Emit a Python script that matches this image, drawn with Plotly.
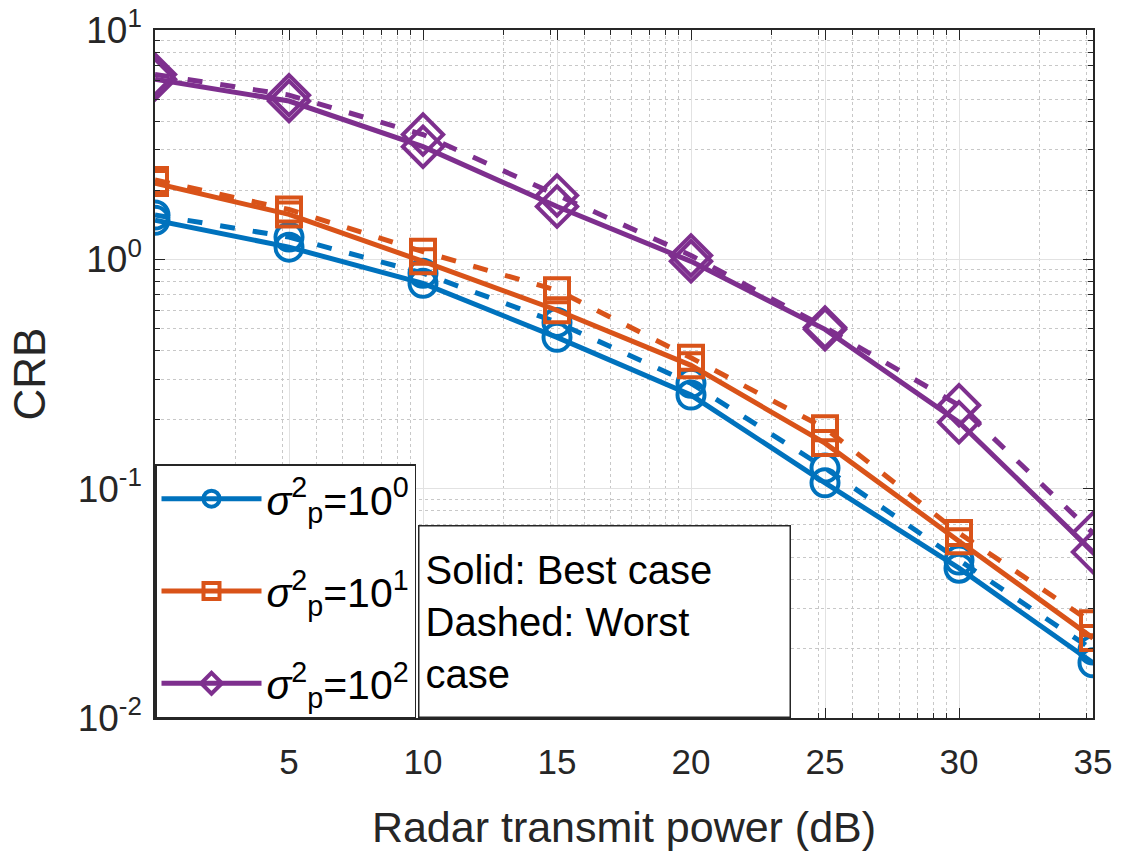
import numpy as np
import plotly.graph_objects as go

# ---- data ----
power_db = [0, 5, 10, 15, 20, 25, 30, 35]
x_ticks_db = [5, 10, 15, 20, 25, 30, 35]

crb_best_s0 = [1.48, 1.13, 0.786, 0.457, 0.256, 0.106, 0.045, 0.0174]
crb_worst_s0 = [1.56, 1.25, 0.87, 0.531, 0.288, 0.123, 0.0488, 0.0198]

crb_best_s1 = [2.15, 1.57, 0.98, 0.60, 0.345, 0.158, 0.059, 0.0223]
crb_worst_s1 = [2.22, 1.65, 1.08, 0.733, 0.372, 0.1835, 0.064, 0.0259]

crb_best_s2 = [6.1, 4.9, 3.1, 1.70, 0.98, 0.495, 0.195, 0.0529]
crb_worst_s2 = [6.4, 5.2, 3.5, 1.90, 1.04, 0.505, 0.231, 0.064]

names = ["<i>σ</i><sup>2</sup><sub>p</sub>=10<sup>0</sup>",
         "<i>σ</i><sup>2</sup><sub>p</sub>=10<sup>1</sup>",
         "<i>σ</i><sup>2</sup><sub>p</sub>=10<sup>2</sup>"]

y_tickvals = [0.01, 0.1, 1, 10]
y_ticktext = ["10<sup>-2</sup>", "10<sup>-1</sup>", "10<sup>0</sup>", "10<sup>1</sup>"]

# ---- styling ----
colors = ["#0072BD", "#D95319", "#7E2F8E"]
symbols = ["circle-open", "square-open", "diamond-open"]
msizes = [27, 24, 31]
FONT = "Liberation Sans, Arial, sans-serif"

x_lin = 10 ** (np.array(power_db) / 10.0)
x_tickvals = list(10 ** (np.array(x_ticks_db) / 10.0))
x_minor = [m * 10 ** d for d in range(0, 4) for m in range(2, 10) if m * 10 ** d < 10 ** 3.5]
y_minor = [m * 10.0 ** d for d in range(-2, 1) for m in range(2, 10)]

series = [(crb_best_s0, crb_worst_s0), (crb_best_s1, crb_worst_s1), (crb_best_s2, crb_worst_s2)]

fig = go.Figure()
for i, (best, worst) in enumerate(series):
    fig.add_trace(go.Scatter(
        x=x_lin, y=best, mode="lines+markers", name=names[i], legendgroup="g%d" % i,
        line=dict(color=colors[i], width=5),
        marker=dict(symbol=symbols[i], size=msizes[i], color=colors[i],
                    line=dict(width=4, color=colors[i])),
        showlegend=True))
    fig.add_trace(go.Scatter(
        x=x_lin, y=worst, mode="lines+markers", name=names[i] + " worst", legendgroup="g%d" % i,
        line=dict(color=colors[i], width=5, dash="15px,18px"),
        marker=dict(symbol=symbols[i], size=msizes[i], color=colors[i],
                    line=dict(width=4, color=colors[i])),
        showlegend=False))

axis_common = dict(
    showline=True, linecolor="#262626", linewidth=1.5, mirror="allticks",
    ticks="inside", ticklen=10, tickwidth=1.2, tickcolor="#262626",
    showgrid=True, gridcolor="#e2e2e2", gridwidth=1.2,
    zeroline=False, automargin=False,
)

fig.update_xaxes(
    type="log", range=[0, 3.5],
    tickmode="array", tickvals=x_tickvals, ticktext=[str(v) for v in x_ticks_db],
    ticklabelstandoff=12,
    tickfont=dict(family=FONT, size=35, color="#262626"),
    minor=dict(tickmode="array", tickvals=x_minor, ticks="inside", ticklen=5,
               tickcolor="#262626", showgrid=True, gridcolor="#c8c8c8",
               griddash="dot", gridwidth=1),
    title=dict(text="Radar transmit power (dB)", font=dict(family=FONT, size=43, color="#262626"),
               standoff=32),
    **axis_common)

fig.update_yaxes(
    type="log", range=[-2, 1],
    tickmode="array", tickvals=y_tickvals, ticktext=y_ticktext,
    ticklabelstandoff=4,
    tickfont=dict(family=FONT, size=37, color="#262626"),
    minor=dict(tickmode="array", tickvals=y_minor, ticks="inside", ticklen=5,
               tickcolor="#262626", showgrid=True, gridcolor="#c8c8c8",
               griddash="dot", gridwidth=1),
    title=dict(text="CRB", font=dict(family=FONT, size=44, color="#262626"), standoff=18),
    **axis_common)

fig.add_annotation(
    xref="paper", yref="paper", x=0.2804, y=0.0, xanchor="left", yanchor="bottom",
    text="Solid: Best case<br>Dashed: Worst<br>case", showarrow=False, align="left",
    font=dict(family=FONT, size=40, color="black"),
    bgcolor="white", bordercolor="#262626", borderwidth=1.5, borderpad=6,
    width=358, height=178, valign="middle")

fig.update_layout(
    width=1124, height=854,
    margin=dict(l=155, r=31, t=30, b=136),
    paper_bgcolor="white", plot_bgcolor="white",
    font=dict(family=FONT, color="#262626"),
    legend=dict(x=0, y=0, xanchor="left", yanchor="bottom",
                bgcolor="white", bordercolor="#262626", borderwidth=1.5,
                font=dict(family=FONT, size=41, color="black"),
                itemwidth=100, tracegroupgap=36),
)

fig.write_html("out.html")
